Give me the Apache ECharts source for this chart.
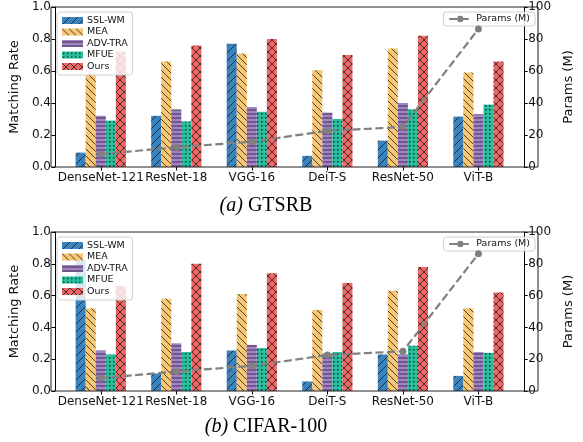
<!DOCTYPE html>
<html>
<head>
<meta charset="utf-8">
<script src="https://cdn.jsdelivr.net/npm/echarts@6/dist/echarts.min.js"></script>
<style>
html,body{margin:0;padding:0;background:#fff;}
#chart{width:583px;height:442px;}
</style>
</head>
<body>
<div id="chart"></div>
<script>
const categories = ['DenseNet-121', 'ResNet-18', 'VGG-16', 'DeiT-S', 'ResNet-50', 'ViT-B'];
const methods = ['SSL-WM', 'MEA', 'ADV-TRA', 'MFUE', 'Ours'];

const gtsrbSSLWM  = [0.09, 0.32, 0.77, 0.07, 0.165, 0.315];
const gtsrbMEA    = [0.58, 0.66, 0.71, 0.605, 0.74, 0.59];
const gtsrbADVTRA = [0.32, 0.36, 0.375, 0.34, 0.40, 0.33];
const gtsrbMFUE   = [0.29, 0.285, 0.345, 0.30, 0.36, 0.39];
const gtsrbOurs   = [0.72, 0.76, 0.80, 0.70, 0.82, 0.66];

const cifarSSLWM  = [0.82, 0.11, 0.255, 0.06, 0.23, 0.095];
const cifarMEA    = [0.52, 0.58, 0.61, 0.51, 0.63, 0.52];
const cifarADVTRA = [0.255, 0.30, 0.29, 0.235, 0.23, 0.245];
const cifarMFUE   = [0.23, 0.245, 0.27, 0.245, 0.285, 0.24];
const cifarOurs   = [0.66, 0.80, 0.74, 0.68, 0.78, 0.62];

const paramsM = [8.1, 12.3, 15.8, 22.6, 25.0, 86.3];

const colors = ['#2F7EBC', '#F8C46C', '#A07CC8', '#1DBC9A', '#F0605E'];
const hatches = ['/', '\\', '-', '.', 'x'];

function hatch(bg, kind) {
  const s = kind === '-' ? 4 : (kind === '.' ? 4 : (kind === 'x' ? 8 : (kind === '/' ? 8 : 7)));
  const c = document.createElement('canvas');
  c.width = s; c.height = s;
  const g = c.getContext('2d');
  g.fillStyle = bg; g.fillRect(0, 0, s, s);
  g.strokeStyle = 'rgba(20,20,20,0.9)';
  g.fillStyle = 'rgba(20,20,20,0.9)';
  g.lineWidth = 0.9;
  g.beginPath();
  if (kind === '/' || kind === 'x') {
    for (let o = -s; o <= s; o += s) { g.moveTo(o, s); g.lineTo(o + s, 0); }
  }
  if (kind === '\\' || kind === 'x') {
    for (let o = -s; o <= s; o += s) { g.moveTo(o, 0); g.lineTo(o + s, s); }
  }
  if (kind === '-') { g.moveTo(0, 2); g.lineTo(s, 2); }
  g.stroke();
  if (kind === '.') { g.fillRect(1, 1, 1.5, 1.5); }
  return { image: c, repeat: 'repeat' };
}

const patterns = colors.map((c, i) => hatch(c, hatches[i]));

const datasets = [
  [gtsrbSSLWM, gtsrbMEA, gtsrbADVTRA, gtsrbMFUE, gtsrbOurs],
  [cifarSSLWM, cifarMEA, cifarADVTRA, cifarMFUE, cifarOurs]
];

const gridTops = [7, 232];
const gridH = [160, 159];
const FONT = 'DejaVu Sans';

const grids = [], xAxes = [], yAxes = [], series = [], legends = [], graphics = [];
for (let k = 0; k < 2; k++) {
  grids.push({ left: 59, width: 471, top: gridTops[k], height: gridH[k] });
  xAxes.push({
    type: 'category', gridIndex: k, data: categories,
    axisLine: { show: false },
    axisTick: { show: true, alignWithLabel: true, length: 3.5, lineStyle: { color: '#000' } },
    axisLabel: { color: '#111', fontSize: 12, fontFamily: FONT, margin: 5, interval: 0 }
  });
  yAxes.push({
    type: 'value', gridIndex: k, min: 0, max: 1, interval: 0.2, offset: 8,
    name: 'Matching Rate', nameLocation: 'middle', nameGap: 25, nameRotate: 90,
    nameTextStyle: { fontSize: 13, fontFamily: FONT, color: '#111' },
    axisLine: { show: true, lineStyle: { color: '#000' } },
    axisTick: { show: true, length: 3.5, lineStyle: { color: '#000' } },
    axisLabel: { color: '#111', fontSize: 12, fontFamily: FONT, margin: 4, formatter: v => v.toFixed(1) },
    splitLine: { show: false }
  });
  yAxes.push({
    type: 'value', gridIndex: k, min: 0, max: 100, interval: 20, offset: 8, position: 'right',
    name: 'Params (M)', nameLocation: 'middle', nameGap: 28, nameRotate: 90,
    nameTextStyle: { fontSize: 13, fontFamily: FONT, color: '#111' },
    axisLine: { show: true, lineStyle: { color: '#000' } },
    axisTick: { show: true, length: 3.5, lineStyle: { color: '#000' } },
    axisLabel: { color: '#111', fontSize: 12, fontFamily: FONT, margin: 4 },
    splitLine: { show: false }
  });
  for (let m = 0; m < methods.length; m++) {
    series.push({
      type: 'bar', name: methods[m], xAxisIndex: k, yAxisIndex: 2 * k,
      data: datasets[k][m], barGap: '0%', barCategoryGap: '33.5%',
      itemStyle: { color: patterns[m], opacity: 0.95 },
      emphasis: { disabled: true }
    });
  }
  series.push({
    type: 'line', name: 'Params (M)', xAxisIndex: k, yAxisIndex: 2 * k + 1, data: paramsM,
    z: 5, symbol: 'circle', symbolSize: 7,
    lineStyle: { color: '#808080', width: 2.2, type: [8, 3.5] },
    itemStyle: { color: '#808080' },
    emphasis: { disabled: true }
  });
  legends.push({
    data: methods, orient: 'vertical', left: 57, top: gridTops[k] + 5,
    itemWidth: 21, itemHeight: 7, itemGap: 0.5, icon: 'rect',
    backgroundColor: 'rgba(255,255,255,0.82)', borderColor: '#d0d0d0', borderWidth: 1, borderRadius: 3,
    padding: [3, 5, 3, 5],
    textStyle: { fontSize: 9.5, lineHeight: 11, fontFamily: FONT, color: '#111', padding: [0, 0, 0, -1] }
  });
  legends.push({
    data: ['Params (M)'], orient: 'vertical', right: 48, top: gridTops[k] + 5,
    itemWidth: 22, itemHeight: 8,
    backgroundColor: 'rgba(255,255,255,0.82)', borderColor: '#d0d0d0', borderWidth: 1, borderRadius: 3,
    padding: [2, 5, 2, 5],
    textStyle: { fontSize: 9.5, fontFamily: FONT, color: '#111' }
  });
  graphics.push({
    type: 'rect', silent: true, z: 10,
    shape: { x: 51, y: gridTops[k], width: 487, height: gridH[k] },
    style: { fill: 'none', stroke: '#222', lineWidth: 1 }
  });
}

const richI = { i: { fontStyle: 'italic', fontSize: 20, fontFamily: 'Liberation Serif' } };
graphics.push(
  { type: 'text', x: 266, y: 206, style: { text: '{i|(a)} GTSRB', align: 'center', verticalAlign: 'middle',
    rich: richI, fontSize: 20, fontFamily: 'Liberation Serif', fill: '#000' } },
  { type: 'text', x: 266, y: 427, style: { text: '{i|(b)} CIFAR-100', align: 'center', verticalAlign: 'middle',
    rich: richI, fontSize: 20, fontFamily: 'Liberation Serif', fill: '#000' } }
);

const chart = echarts.init(document.getElementById('chart'), null, { renderer: 'canvas' });
chart.setOption({
  animation: false,
  backgroundColor: '#fff',
  grid: grids, xAxis: xAxes, yAxis: yAxes, series: series, legend: legends,
  graphic: graphics
});
</script>
</body>
</html>
